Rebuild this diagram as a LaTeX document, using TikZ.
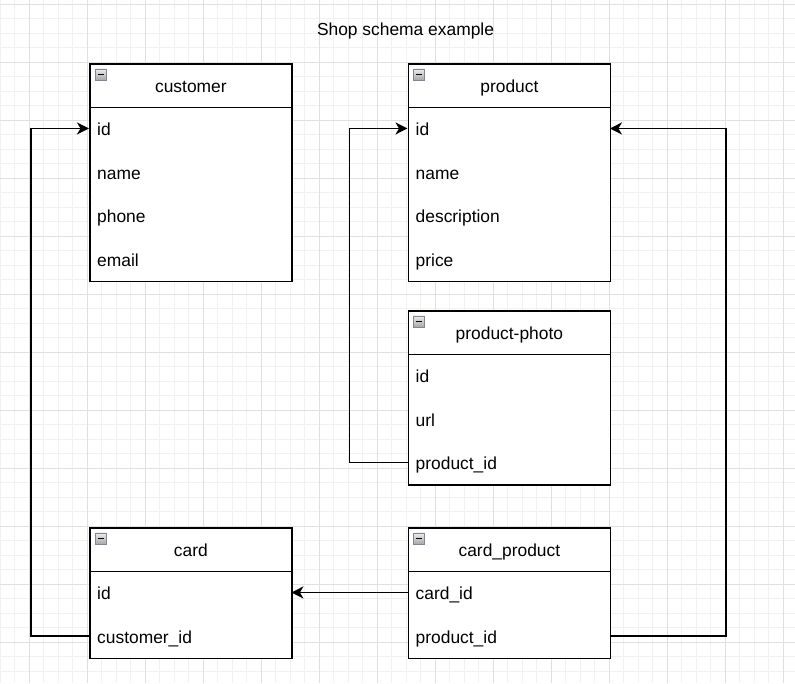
\documentclass[tikz,border=0pt]{standalone}
\usepackage{fontspec}
\setmainfont{Liberation Sans}
\usetikzlibrary{arrows.meta}
\definecolor{gridminor}{HTML}{F1F1F1}
\definecolor{gridmajor}{HTML}{E0E0E0}
\definecolor{iconborder}{HTML}{7F8796}
\definecolor{icontop}{HTML}{ECECEC}
\definecolor{iconbot}{HTML}{A8A8A8}
\tikzset{
  every node/.style={font=\fontsize{17.4}{20}\selectfont, text height=17pt, text depth=2.4pt},
  hdr/.style={draw=black, line width=1.8pt, fill=white, minimum width=202pt, minimum height=43.5pt, inner sep=0pt, anchor=north west},
  tbody/.style={draw=black, line width=1.8pt, fill=white, minimum width=202pt, inner sep=0pt, anchor=north west},
  field/.style={minimum height=43.5pt, text width=186pt, inner xsep=8pt, inner ysep=0pt, align=left, anchor=north west},
  icon/.style={draw=iconborder, line width=0.9pt, top color=icontop, bottom color=iconbot, minimum width=11pt, minimum height=11pt, inner sep=0pt, text height=0pt, text depth=0pt, anchor=north west,
    path picture={\draw[black, line width=1.8pt] ([xshift=2.5pt]path picture bounding box.west) -- ([xshift=-2.5pt]path picture bounding box.east);}},
  conn/.style={draw=black, line width=1.8pt, -{Stealth[length=12pt, width=12pt, inset=3.5pt]}},
}
\begin{document}
\begin{tikzpicture}[x=1pt, y=-1pt]
\fill[white] (0,0) rectangle (795,683);
\useasboundingbox (0,0) rectangle (795,683);
% grid
\foreach \k in {-2,...,53} {
  \pgfmathsetmacro{\gx}{29.3+14.5*\k}
  \draw[gridminor, line width=0.8pt] (\gx,0) -- (\gx,683);
}
\foreach \k in {0,...,47} {
  \pgfmathsetmacro{\gy}{4+14.5*\k}
  \draw[gridminor, line width=0.8pt] (0,\gy) -- (795,\gy);
}
\foreach \k in {0,...,13} {
  \pgfmathsetmacro{\gx}{29.3+58*\k}
  \draw[gridmajor, line width=1pt] (\gx,0) -- (\gx,683);
}
\foreach \k in {0,...,11} {
  \pgfmathsetmacro{\gy}{4+58*\k}
  \draw[gridmajor, line width=1pt] (0,\gy) -- (795,\gy);
}

% title
\node (title) at (405.5,28.4) {Shop schema example};

% customer
\node[tbody, minimum height=174pt] (cust-b) at (89,106.5) {};
\node[hdr] (cust) at (89,63) {customer};
\node[icon] (cust-ic) at (95,68.5) {};
\node[field] (cust-id) at (89,106.5) {id};
\node[field] (cust-name) at (89,150) {name};
\node[field] (cust-phone) at (89,193.5) {phone};
\node[field] (cust-email) at (89,237) {email};

% product
\node[tbody, minimum height=174pt] (prod-b) at (407.5,106.5) {};
\node[hdr] (prod) at (407.5,63) {product};
\node[icon] (prod-ic) at (413,68.5) {};
\node[field] (prod-id) at (407.5,106.5) {id};
\node[field] (prod-name) at (407.5,150) {name};
\node[field] (prod-desc) at (407.5,193.5) {description};
\node[field] (prod-price) at (407.5,237) {price};

% product-photo
\node[tbody, minimum height=130.5pt] (pp-b) at (407.5,353.5) {};
\node[hdr] (pp) at (407.5,310) {product-photo};
\node[icon] (pp-ic) at (413,315.5) {};
\node[field] (pp-id) at (407.5,353.5) {id};
\node[field] (pp-url) at (407.5,397) {url};
\node[field] (pp-pid) at (407.5,440.5) {product\_id};

% card
\node[tbody, minimum height=87pt] (card-b) at (89,570.5) {};
\node[hdr] (card) at (89,527) {card};
\node[icon] (card-ic) at (95,532.5) {};
\node[field] (card-id) at (89,570.5) {id};
\node[field] (card-cid) at (89,614) {customer\_id};

% card_product
\node[tbody, minimum height=87pt] (cp-b) at (407.5,570.5) {};
\node[hdr] (cp) at (407.5,527) {card\_product};
\node[icon] (cp-ic) at (413,532.5) {};
\node[field] (cp-cid) at (407.5,570.5) {card\_id};
\node[field] (cp-pid) at (407.5,614) {product\_id};

% connectors
\draw[conn] (card-cid.west) -- ++(-58,0) |- (cust-id.west);
\draw[conn] (pp-pid.west) -- ++(-58,0) |- (prod-id.west);
\draw[conn] (cp-cid.west) -- (card-id.east);
\draw[conn] (cp-pid.east) -- ++(116,0) |- (prod-id.east);
\end{tikzpicture}
\end{document}
